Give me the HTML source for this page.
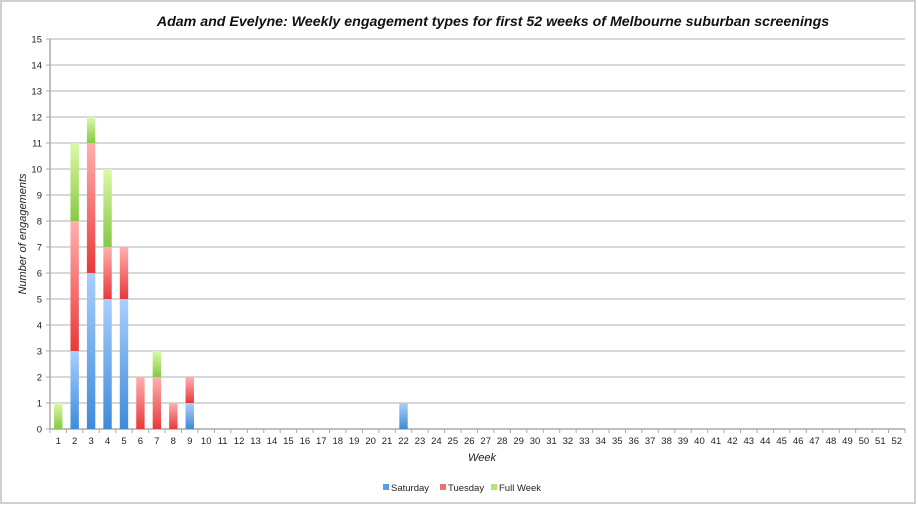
<!DOCTYPE html>
<html><head><meta charset="utf-8"><style>
html,body{margin:0;padding:0;background:#fff;}
svg{display:block;font-family:"Liberation Sans",Verdana,sans-serif;}
</style></head><body>
<svg id="c" width="918" height="506" xmlns="http://www.w3.org/2000/svg">
<defs>
<linearGradient id="gb" x1="0" y1="0" x2="0" y2="1"><stop offset="0" stop-color="#a9cffc"/><stop offset="1" stop-color="#3d8bd9"/></linearGradient>
<linearGradient id="gr" x1="0" y1="0" x2="0" y2="1"><stop offset="0" stop-color="#ffb0b0"/><stop offset="1" stop-color="#e8393a"/></linearGradient>
<linearGradient id="gg" x1="0" y1="0" x2="0" y2="1"><stop offset="0" stop-color="#dcf8a8"/><stop offset="1" stop-color="#86c943"/></linearGradient>
</defs>
<rect x="1" y="1" width="914" height="502" fill="#fff" stroke="#cfcfcf" stroke-width="2"/>
<text x="493" y="26" text-anchor="middle" font-size="14.2" font-weight="bold" font-style="italic" fill="#111">Adam and Evelyne: Weekly engagement types for first 52 weeks of Melbourne suburban screenings</text>
<g id="g"></g>
<text x="482" y="461" text-anchor="middle" font-size="11" font-style="italic" fill="#222">Week</text>
<text transform="translate(26,234) rotate(-90)" text-anchor="middle" font-size="11" font-style="italic" fill="#222">Number of engagements</text>
<rect x="383" y="484" width="6" height="6" fill="#5b9ee8"/><text x="391" y="491" font-size="9.5" fill="#222">Saturday</text>
<rect x="440" y="484" width="6" height="6" fill="#f07070"/><text x="448" y="491" font-size="9.5" fill="#222">Tuesday</text>
<rect x="491" y="484" width="6" height="6" fill="#b5e27a"/><text x="499" y="491" font-size="9.5" fill="#222">Full Week</text>
</svg>
<script>
var g=document.getElementById('g'),s='';
var X0=50,X1=905,Y0=429,U=26,step=(X1-X0)/52;
for(var i=0;i<=15;i++){var y=Y0-i*U;
 if(i>0)s+='<line x1="'+X0+'" y1="'+y+'" x2="'+X1+'" y2="'+y+'" stroke="#cbcbcb" stroke-width="1.5"/>';
 s+='<text x="'+(X0-8)+'" y="'+(y+3.5)+'" text-anchor="end" font-size="9.5" fill="#222">'+i+'</text>';}
s+='<line x1="'+X0+'" y1="'+Y0+'" x2="'+X1+'" y2="'+Y0+'" stroke="#aaa" stroke-width="1.5"/>';
s+='<line x1="'+X0+'" y1="39" x2="'+X0+'" y2="'+Y0+'" stroke="#aaa" stroke-width="1.5"/>';
for(var i=0;i<=52;i++){var x=X0+i*step;s+='<line x1="'+x+'" y1="'+Y0+'" x2="'+x+'" y2="'+(Y0+4)+'" stroke="#aaa"/>';}
for(var i=0;i<=15;i++){var y=Y0-i*U;s+='<line x1="'+(X0-4)+'" y1="'+y+'" x2="'+X0+'" y2="'+y+'" stroke="#aaa"/>';}
for(var w=1;w<=52;w++){var cx=X0+(w-0.5)*step;s+='<text x="'+cx+'" y="'+(Y0+15)+'" text-anchor="middle" font-size="9.5" fill="#222">'+w+'</text>';}
var d={1:[0,0,1],2:[3,5,3],3:[6,5,1],4:[5,2,3],5:[5,2,0],6:[0,2,0],7:[0,2,1],8:[0,1,0],9:[1,1,0],22:[1,0,0]};
var f=['url(#gb)','url(#gr)','url(#gg)'];
for(var w in d){var cx=X0+(w-0.5)*step,b=0;
 for(var k=0;k<3;k++){var v=d[w][k];if(!v)continue;
  var y=Y0-(b+v)*U;s+='<rect x="'+(cx-4.2)+'" y="'+y+'" width="8.4" height="'+(v*U)+'" fill="'+f[k]+'"/>';b+=v;}}
g.innerHTML=s;
</script>
</body></html>
